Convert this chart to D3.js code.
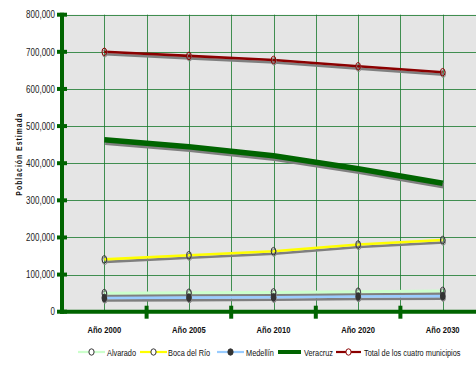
<!DOCTYPE html>
<html>
<head>
<meta charset="utf-8">
<script src="https://cdn.jsdelivr.net/npm/d3@7"></script>
<style>
  html, body { margin: 0; padding: 0; background: #ffffff; }
  svg { display: block; font-family: "Liberation Sans", Arial, sans-serif; }
</style>
</head>
<body>
<svg id="chart" width="476" height="366"></svg>
<script>
// Población estimada por municipio
const years = ["Año 2000", "Año 2005", "Año 2010", "Año 2020", "Año 2030"];
const alvarado = [50000, 51000, 52000, 54000, 56000];
const bocaDelRio = [141000, 152000, 163000, 181000, 193000];
const medellin = [37000, 38000, 39000, 41000, 42000];
const veracruz = [463000, 444000, 420000, 385000, 346000];
const total = [700000, 689000, 678000, 661000, 645000];
const yTicks = [0, 100000, 200000, 300000, 400000, 500000, 600000, 700000, 800000];

const seriesNames = ["Alvarado", "Boca del Río", "Medellín", "Veracruz", "Total de los cuatro municipios"];

const series = [
  { name: seriesNames[0], values: alvarado, color: "#ccffcc", width: 3, marker: "open", mColor: "#333333" },
  { name: seriesNames[1], values: bocaDelRio, color: "#ffff00", width: 2.6, marker: "open", mColor: "#333333" },
  { name: seriesNames[2], values: medellin, color: "#99ccff", width: 2.6, marker: "filled", mColor: "#333333" },
  { name: seriesNames[3], values: veracruz, color: "#006400", width: 5.5, marker: "none" },
  { name: seriesNames[4], values: total, color: "#8b0000", width: 2.6, marker: "open", mColor: "#8b0000" }
];

// condensed look: regular sans squeezed horizontally
const NARROW = 0.8;

const svg = d3.select("#chart");
const plotLeft = 62, plotRight = 485, plotTop = 14.7, plotBottom = 311.7;

const x = d3.scaleBand().domain(years).range([plotLeft, plotRight]).padding(0);
const y = d3.scaleLinear().domain([0, 800000]).range([plotBottom, plotTop]);
const bw = x.bandwidth();

// plot background
svg.append("rect")
  .attr("x", plotLeft).attr("y", plotTop)
  .attr("width", plotRight - plotLeft).attr("height", plotBottom - plotTop)
  .attr("fill", "#e5e5e5");

// grid
const grid = svg.append("g").attr("stroke", "#16782a").attr("stroke-width", 1).attr("stroke-opacity", 0.8);
yTicks.filter(d => d > 0).forEach(t => {
  grid.append("line").attr("x1", plotLeft).attr("x2", plotRight)
    .attr("y1", Math.round(y(t)) + 0.5).attr("y2", Math.round(y(t)) + 0.5);
});
d3.range(1, years.length * 2).forEach(i => {
  const gx = plotLeft + i * bw / 2;
  grid.append("line").attr("x1", Math.round(gx) + 0.5).attr("x2", Math.round(gx) + 0.5)
    .attr("y1", plotTop).attr("y2", plotBottom);
});

// lines with drop shadow
const line = d3.line()
  .x((d, i) => x(years[i]) + bw / 2)
  .y(d => y(d));

series.forEach(s => {
  svg.append("path").datum(s.values)
    .attr("d", line)
    .attr("transform", "translate(1,2.5)")
    .attr("fill", "none")
    .attr("stroke", "#7f7f7f")
    .attr("stroke-width", s.width);
});
series.forEach(s => {
  svg.append("path").datum(s.values)
    .attr("d", line)
    .attr("fill", "none")
    .attr("stroke", s.color)
    .attr("stroke-width", s.width);
});

// markers
series.filter(s => s.marker !== "none").forEach(s => {
  const g = svg.append("g");
  s.values.forEach((v, i) => {
    const cx = x(years[i]) + bw / 2, cy = y(v);
    g.append("ellipse").attr("cx", cx + 0.5).attr("cy", cy + 1.5)
      .attr("rx", 2.3).attr("ry", 3.8)
      .attr("fill", s.marker === "filled" ? "#777" : "none")
      .attr("stroke", "#8a8a8a").attr("stroke-width", 1);
    g.append("ellipse").attr("cx", cx).attr("cy", cy)
      .attr("rx", 2.3).attr("ry", 3.8)
      .attr("fill", s.marker === "filled" ? "#333333" : "none")
      .attr("stroke", s.mColor).attr("stroke-width", 1);
  });
});

// axes
const axisColor = "#006400";
const yAxis = svg.append("g").attr("transform", `translate(${plotLeft},0)`)
  .call(d3.axisLeft(y).tickValues(yTicks).tickFormat(d3.format(",")).tickSize(0));
yAxis.select(".domain").remove();
yAxis.selectAll("text")
  .attr("x", 0)
  .attr("transform", `translate(-7,0) scale(${NARROW},1)`)
  .attr("font-size", 10).attr("fill", "#222").attr("font-family", null);
yTicks.forEach(t => {
  svg.append("line").attr("x1", plotLeft - 5).attr("x2", plotLeft + 5)
    .attr("y1", y(t)).attr("y2", y(t))
    .attr("stroke", axisColor).attr("stroke-width", 4);
});
svg.append("line").attr("x1", plotLeft).attr("x2", plotLeft)
  .attr("y1", plotTop - 2).attr("y2", plotBottom + 2)
  .attr("stroke", axisColor).attr("stroke-width", 4);

const xAxis = svg.append("g").attr("transform", `translate(0,${plotBottom})`)
  .call(d3.axisBottom(x).tickSize(0).tickPadding(15));
xAxis.select(".domain").remove();
xAxis.selectAll("text")
  .attr("transform", `scale(${NARROW},1)`)
  .attr("font-size", 9.5).attr("font-weight", "bold").attr("fill", "#111").attr("font-family", null);
d3.range(1, years.length + 1).forEach(i => {
  const gx = plotLeft + i * bw;
  svg.append("line").attr("x1", gx).attr("x2", gx)
    .attr("y1", plotBottom - 6).attr("y2", plotBottom + 7)
    .attr("stroke", axisColor).attr("stroke-width", 4);
});
svg.append("line").attr("x1", plotLeft - 2).attr("x2", plotRight)
  .attr("y1", plotBottom).attr("y2", plotBottom)
  .attr("stroke", axisColor).attr("stroke-width", 4);

// y title
svg.append("text")
  .attr("transform", `translate(22,154) rotate(-90) scale(${NARROW},1)`)
  .attr("text-anchor", "middle")
  .attr("font-size", 8.5).attr("font-weight", "bold").attr("fill", "#111")
  .attr("letter-spacing", 1.3)
  .text("Población Estimada");

// legend
const legendPos = [
  { lx: 78, lw: 27, tx: 107 },
  { lx: 140, lw: 27, tx: 168 },
  { lx: 217, lw: 27, tx: 246 },
  { lx: 278, lw: 23, tx: 304 },
  { lx: 336, lw: 25, tx: 364 }
];
const ly = 352;
const legend = svg.append("g");
series.forEach((s, i) => {
  const p = legendPos[i];
  legend.append("line").attr("x1", p.lx).attr("x2", p.lx + p.lw)
    .attr("y1", ly).attr("y2", ly)
    .attr("stroke", s.color).attr("stroke-width", s.marker === "none" ? 4 : 2.2);
  if (s.marker !== "none") {
    legend.append("ellipse").attr("cx", p.lx + p.lw / 2).attr("cy", ly)
      .attr("rx", 2.6).attr("ry", 3.2)
      .attr("fill", s.marker === "filled" ? "#333333" : "#ffffff")
      .attr("stroke", s.mColor).attr("stroke-width", 1);
  }
  legend.append("text")
    .attr("transform", `translate(${p.tx},${ly + 3.5}) scale(${NARROW},1)`)
    .attr("font-size", 9.2).attr("fill", "#111")
    .text(s.name);
});
</script>
</body>
</html>
